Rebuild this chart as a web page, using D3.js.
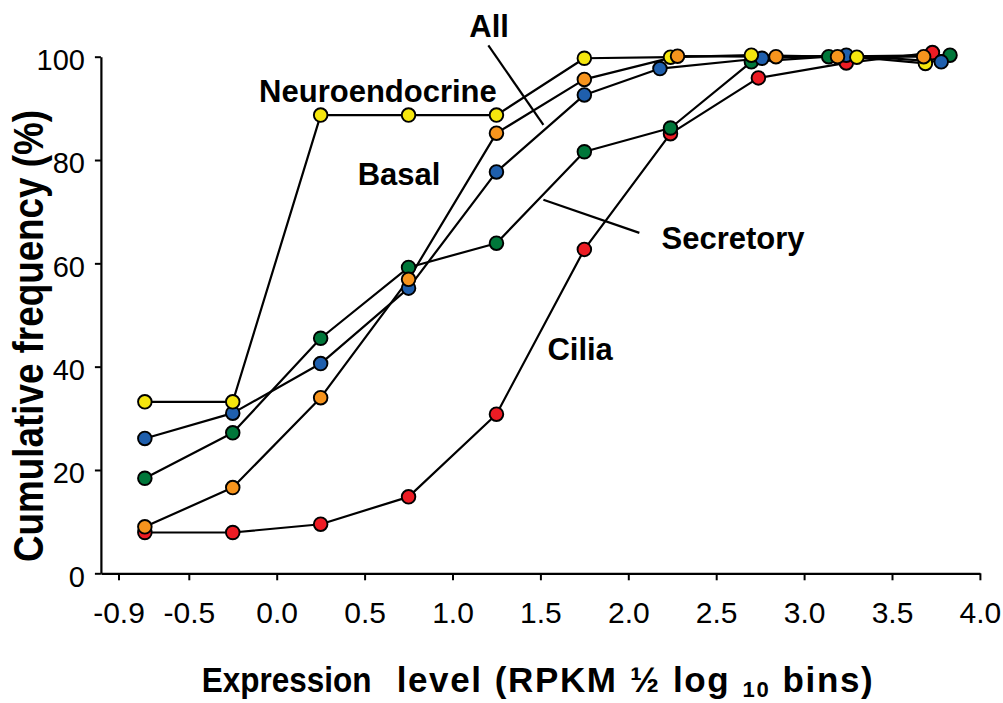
<!DOCTYPE html>
<html>
<head>
<meta charset="utf-8">
<script src="https://cdn.jsdelivr.net/npm/d3@7"></script>
<style>
  html, body { margin: 0; padding: 0; background: #fff; }
  svg { display: block; }
  text { font-family: "Liberation Sans", Arial, Helvetica, sans-serif; fill: #000; }
</style>
</head>
<body>
<svg id="chart" width="1003" height="703"></svg>
<script>
// ---------------- data ----------------
const xTicks = [-0.9, -0.5, 0.0, 0.5, 1.0, 1.5, 2.0, 2.5, 3.0, 3.5, 4.0];
const yTicks = [0, 20, 40, 60, 80, 100];

// bin centres (RPKM 1/2 log10 bins); upper bins slightly offset per series in the original
const ciliaX          = [-0.75, -0.25, 0.25, 0.75, 1.25, 1.75, 2.24, 2.74, 3.24, 3.73];
const ciliaY          = [7.9, 7.9, 9.5, 14.8, 30.8, 62.7, 85.1, 95.9, 98.8, 100.8];
const secretoryX      = [-0.75, -0.25, 0.25, 0.75, 1.25, 1.75, 2.24, 2.70, 3.14, 3.83];
const secretoryY      = [18.4, 27.2, 45.5, 59.2, 63.9, 81.6, 86.2, 99.0, 100.0, 100.3];
const basalX          = [-0.75, -0.25, 0.25, 0.75, 1.25, 1.75, 2.18, 2.76, 3.24, 3.78];
const basalY          = [26.1, 31.0, 40.6, 55.2, 77.7, 92.6, 97.7, 99.7, 100.3, 99.0];
const neuroX          = [-0.75, -0.25, 0.25, 0.75, 1.25, 1.75, 2.24, 2.70, 3.30, 3.69];
const neuroY          = [33.2, 33.2, 88.7, 88.7, 88.7, 99.7, 99.9, 100.3, 99.9, 98.7];
const allX            = [-0.75, -0.25, 0.25, 0.75, 1.25, 1.75, 2.28, 2.84, 3.19, 3.68];
const allY            = [9.0, 16.6, 34.0, 56.9, 85.2, 95.6, 100.1, 100.0, 100.0, 100.0];

const seriesNames  = ["Cilia", "Secretory", "Basal", "Neuroendocrine", "All"];
const seriesColors = ["#ED1C24", "#00773A", "#1F5FAD", "#F5E60E", "#F7941D"];
const seriesXs     = [ciliaX, secretoryX, basalX, neuroX, allX];
const seriesYs     = [ciliaY, secretoryY, basalY, neuroY, allY];

// annotations (data coordinates)
const labelTexts = ["All", "Neuroendocrine", "Basal", "Secretory", "Cilia"];
const labelX     = [1.208, 0.576, 0.696, 2.596, 1.726];
const labelY     = [103.8, 91.3, 75.2, 62.8, 41.2];
const pointerFrom = [[1.204, 102.2], [1.517, 72.3]];
const pointerTo   = [[1.517, 86.8], [2.063, 65.9]];

// ---------------- chart ----------------
const svg = d3.select("#chart");
const x = d3.scaleLinear().domain([-1.0, 4.0]).range([100.9, 979.9]);
const y = d3.scaleLinear().domain([0, 100]).range([573.3, 56.7]);

// axes
const xAxis = d3.axisBottom(x).tickValues(xTicks).tickSize(7).tickSizeOuter(0)
  .tickPadding(21.4).tickFormat(d => d.toFixed(1));
const gx = svg.append("g").attr("transform", `translate(0,${y(0)})`).call(xAxis);
gx.select(".domain").attr("stroke", "#000").attr("stroke-width", 2.2);
gx.selectAll(".tick line").attr("stroke", "#000").attr("stroke-width", 2);
gx.selectAll(".tick text").attr("font-size", 30).attr("font-family", null).attr("fill", "#000");

const yAxis = d3.axisLeft(y).tickValues(yTicks).tickSize(6).tickSizeOuter(0).tickPadding(10);
const gy = svg.append("g").attr("transform", `translate(${x(-1.0)},0)`).call(yAxis);
gy.select(".domain").attr("stroke", "#000").attr("stroke-width", 2.2);
gy.selectAll(".tick line").attr("stroke", "#000").attr("stroke-width", 2);
gy.selectAll(".tick text").attr("font-size", 29).attr("font-family", null).attr("fill", "#000")
  .attr("dy", "0.44em");

// lines
const line = d3.line().x(d => x(d[0])).y(d => y(d[1]));
seriesNames.forEach((name, i) => {
  const pts = seriesXs[i].map((v, j) => [v, seriesYs[i][j]]);
  svg.append("path").datum(pts).attr("d", line)
    .attr("fill", "none").attr("stroke", "#000").attr("stroke-width", 2.2)
    .attr("stroke-linejoin", "round");
});

// pointer lines
pointerFrom.forEach((p, i) => {
  svg.append("line")
    .attr("x1", x(p[0])).attr("y1", y(p[1]))
    .attr("x2", x(pointerTo[i][0])).attr("y2", y(pointerTo[i][1]))
    .attr("stroke", "#000").attr("stroke-width", 2.2);
});

// markers
seriesNames.forEach((name, i) => {
  const pts = seriesXs[i].map((v, j) => [v, seriesYs[i][j]]);
  svg.append("g").selectAll("circle").data(pts).join("circle")
    .attr("cx", d => x(d[0])).attr("cy", d => y(d[1])).attr("r", 6.8)
    .attr("fill", seriesColors[i]).attr("stroke", "#000").attr("stroke-width", 1.9);
});

// series labels
labelTexts.forEach((t, i) => {
  svg.append("text").attr("x", x(labelX[i])).attr("y", y(labelY[i]))
    .attr("text-anchor", "middle").attr("font-size", 31).attr("font-weight", "bold")
    .text(t);
});

// y title
svg.append("text")
  .attr("transform", "translate(43.3,336) rotate(-90)")
  .attr("text-anchor", "middle").attr("font-size", 42).attr("font-weight", "bold")
  .attr("textLength", 452).attr("lengthAdjust", "spacingAndGlyphs")
  .text("Cumulative frequency (%)");

// x title
svg.append("text")
  .attr("transform", "translate(201.7,692) scale(0.9,1)")
  .attr("font-size", 35).attr("font-weight", "bold")
  .text("Expression");
const xt = svg.append("text")
  .attr("x", 396.7).attr("y", 692)
  .attr("font-size", 35).attr("font-weight", "bold")
  .style("letter-spacing", "1.6px").style("word-spacing", "1px");
xt.append("tspan").text("level (RPKM \u00BD log ");
xt.append("tspan").attr("font-size", 22).attr("dy", 5).text("10");
xt.append("tspan").attr("dy", -5).text(" bins)");
</script>
</body>
</html>
